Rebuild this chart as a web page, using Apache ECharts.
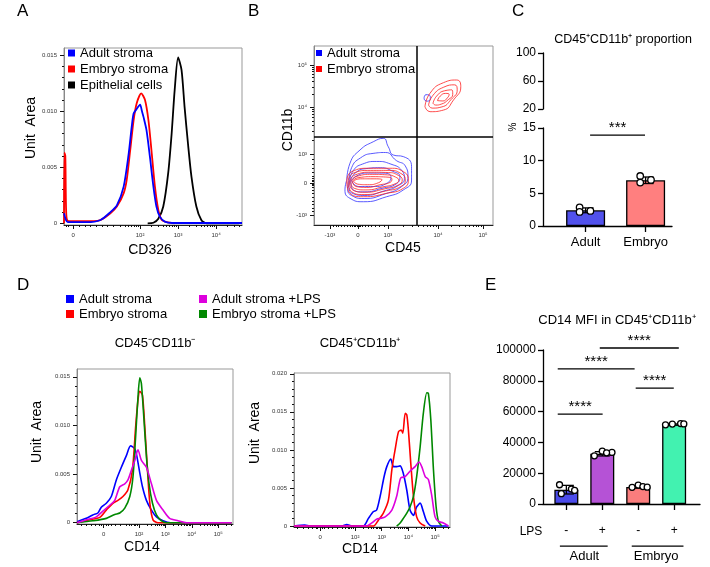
<!DOCTYPE html>
<html><head><meta charset="utf-8">
<script src="https://cdn.jsdelivr.net/npm/echarts@6/dist/echarts.min.js"></script>
<style>html,body{margin:0;padding:0;background:#fff}#c{width:710px;height:567px}</style>
</head><body><div id="c"></div>
<script>
const FONT = '"Liberation Sans", Arial, Helvetica, sans-serif';

// ---------- Panel A: CD326 histograms (x in display decades) ----------
const A_xTickVals = [0.24, 2, 3, 4];
const A_xTickLabels = ['0', '10²', '10³', '10⁴'];
const A_yTickVals = [0, 0.005, 0.01, 0.015];
const A_yTickLabels = ['0', '0.005', '0.010', '0.015'];
const A_adult = [[0,0.0009],[0.05,0.0003],[0.1,0.0001],[0.6,0.0001],[0.96,0.0003],[1.22,0.001],[1.39,0.0016],[1.57,0.0033],[1.70,0.0062],[1.78,0.0086],[1.83,0.0098],[1.91,0.0102],[2.0,0.0106],[2.05,0.0100],[2.09,0.0095],[2.17,0.0083],[2.26,0.0059],[2.35,0.0033],[2.43,0.0015],[2.52,0.0006],[2.65,0.00015],[2.85,0.00003],[4.68,0.00003]];
const A_embryo = [[0,0],[0.01,0.0063],[0.035,0.006],[0.06,0.0008],[0.12,0.0002],[0.78,0.0002],[0.96,0.0003],[1.22,0.0009],[1.39,0.0015],[1.57,0.0027],[1.65,0.0039],[1.74,0.0065],[1.83,0.0092],[1.91,0.0107],[2.03,0.0116],[2.13,0.011],[2.22,0.0092],[2.30,0.0065],[2.39,0.0033],[2.48,0.0012],[2.57,0.0003],[2.70,0.0001],[2.9,0]];
const A_epi = [[2.2,0],[2.35,0.00005],[2.48,0.0004],[2.61,0.0015],[2.74,0.0045],[2.83,0.008],[2.91,0.0119],[3.0,0.0148],[3.09,0.0137],[3.17,0.0104],[3.26,0.0071],[3.35,0.0042],[3.48,0.0015],[3.61,0.0003],[3.74,0],[4.6,0]];

// ---------- Panel B: CD45 vs CD11b contours (display units 0-100) ----------
const B_xTickVals = [8.9, 24.6, 41.3, 69.3, 94.4];
const B_xTickLabels = ['-10³', '0', '10³', '10⁴', '10⁵'];
const B_yTickVals = [5.6, 23.5, 39.7, 65.9, 89.4];
const B_yTickLabels = ['-10³', '0', '10³', '10⁴', '10⁵'];
const B_gateX = 57.5;
const B_gateY = 49.2;
const B_adultLoops = [
  [[18.3,25.1],[20.1,34.5],[25.7,41.9],[33.1,46.5],[38.7,48.4],[41.5,43.7],[44.3,39.1],[49.9,38.2],[54.5,32.6],[54.5,25.1],[49.9,19.6],[40.6,15.8],[27.6,13.0],[20.1,14.9],[17.3,19.6]],
  [[19.5,25],[21,32],[26,37.5],[33,40],[40,40.5],[46,36],[51,33],[52.5,27],[49,21.5],[40,17.5],[28,14.8],[21,16.5],[18.8,20.5]],
  [[20,25],[22,30.5],[27,34],[35,35.5],[43,34],[49,30.5],[50.5,26],[47,22],[39,19],[28,16.5],[22,17.5],[19.5,21]],
  [[20.5,25],[23,29],[29,31.5],[37,32],[44,30],[48,27],[46,23],[38,20.5],[28,18.5],[22,19.5]],
  [[21,25],[24,27.5],[30,29],[38,29],[43,27],[41,23.5],[33,21.5],[25,21.5]],
  [[61.5,71],[62.5,72.8],[64.3,72.6],[65,70.8],[63.5,69.2],[62,69.6]]
];
const B_embryoLoops = [
  [[18.3,24.2],[21.0,29.8],[31.3,31.7],[42.5,31.7],[49.9,29.8],[52.7,25.1],[49.9,20.5],[40.6,17.7],[27.6,15.8],[20.1,17.7]],
  [[19,24.2],[22,29],[31.5,30.5],[42,30.5],[48.5,28.8],[51,25.2],[48.5,21.5],[40,19],[28,17],[21,18.6]],
  [[19.8,24.3],[23,28],[32,29.5],[41.5,29.3],[47,27.8],[49.3,25.2],[47,22.3],[39.5,20.2],[28.5,18.3],[21.8,19.5]],
  [[20.5,24.4],[24,27.2],[32.5,28.3],[41,28],[45.5,26.8],[47.3,25],[45.3,23],[38.5,21.3],[29,19.6],[22.5,20.5]],
  [[21.3,24.5],[25,26.5],[33,27],[40,26.8],[43.5,25.6],[42.5,23.8],[37,22.5],[29.5,21],[23.5,21.5]],
  [[22,24.6],[26,25.8],[33,25.8],[38,25.3],[36,23.6],[30,22.5],[24.5,22.8]],
  [[62.0,66.1],[64.8,73.6],[72.3,79.5],[79.7,81.0],[82.0,77.3],[77.9,69.8],[72.3,64.2],[64.8,63.3]],
  [[64,67],[66.5,72.5],[72.5,77],[78.5,78.3],[80,75.5],[76.5,70],[71.5,66],[66,65.3]],
  [[66.5,68],[68.5,72],[73,75],[77,75.5],[77.5,73],[75,70],[71,67.5],[68,67]],
  [[69,69.5],[70.5,72],[73.5,73.5],[75.5,73],[74.5,71],[72,69.3]]
];

// ---------- Panel C: CD45+CD11b+ proportion ----------
const C_groups = ['Adult', 'Embryo'];
const C_means = [2.4, 7.0];
const C_sd = [0.37, 0.5];
const C_dots = [[[-0.1,2.85],[-0.1,2.15],[0.08,2.3]], [[-0.09,7.65],[-0.09,6.65],[0.09,7.05]]];
const C_upperTicks = [20, 60, 100];
const C_sig = [[0.075, 0.99, 13.9]];

// ---------- Panel D: CD14 histograms ----------
const D_xTickLabels = ['0', '10²', '10³', '10⁴', '10⁵'];
const DL_xTickVals = [0.66, 2, 3, 4, 5];
const DR_xTickVals = [0.69, 2, 3, 4, 5];
const DL_yTickVals = [0, 0.005, 0.01, 0.015];
const DL_yTickLabels = ['0', '0.005', '0.010', '0.015'];
const DR_yTickVals = [0, 0.005, 0.01, 0.015, 0.02];
const DR_yTickLabels = ['0', '0.005', '0.010', '0.015', '0.020'];
const DL_adult = [[-0.35,0.0001],[0,0.00045],[0.25,0.0008],[0.44,0.001],[0.57,0.0016],[0.76,0.002],[0.95,0.0027],[1.14,0.0044],[1.33,0.0057],[1.52,0.0069],[1.68,0.0079],[1.84,0.0076],[1.92,0.0068],[2.03,0.0051],[2.13,0.0037],[2.28,0.0023],[2.47,0.0013],[2.66,0.0006],[2.91,0.0002],[3.2,0],[5.5,0]];
const DL_embryo = [[-0.35,0],[0.13,0.0003],[0.51,0.00055],[0.76,0.0013],[1.01,0.002],[1.2,0.0023],[1.39,0.0027],[1.58,0.0034],[1.75,0.0054],[1.87,0.0098],[1.96,0.0126],[2.03,0.0135],[2.13,0.0131],[2.22,0.0098],[2.32,0.0054],[2.41,0.002],[2.53,0.0003],[2.72,0],[5.5,0]];
const DL_adultLPS = [[-0.35,0],[0,0.0003],[0.38,0.0006],[0.63,0.0012],[0.89,0.0018],[1.08,0.0023],[1.27,0.0037],[1.46,0.004],[1.58,0.0044],[1.71,0.0054],[1.84,0.0064],[1.96,0.0075],[2.09,0.0064],[2.28,0.0057],[2.47,0.004],[2.66,0.0023],[2.91,0.0013],[3.16,0.00045],[3.48,0.0002],[3.8,0],[5.5,0]];
const DL_embryoLPS = [[-0.35,0],[0.25,0.0002],[0.76,0.00045],[1.08,0.00085],[1.27,0.001],[1.46,0.0015],[1.65,0.0027],[1.77,0.0047],[1.87,0.0088],[1.96,0.0129],[2.03,0.0149],[2.09,0.0143],[2.18,0.0109],[2.28,0.0068],[2.38,0.004],[2.51,0.002],[2.66,0.0008],[2.85,0.0002],[3.05,0],[5.5,0]];
const DR_adult = [[-0.29,0],[0.12,0.00013],[0.3,0],[1.5,0],[1.69,0.0002],[1.88,0],[2.31,0],[2.5,0.001],[2.69,0.0019],[2.81,0.0021],[2.94,0.0039],[3.09,0.0065],[3.19,0.0078],[3.34,0.0088],[3.44,0.0078],[3.56,0.0078],[3.69,0.0079],[3.81,0.0069],[3.94,0.0047],[4.06,0.0021],[4.19,0.0014],[4.31,0.0025],[4.44,0.003],[4.56,0.0019],[4.69,0.0006],[4.88,0],[5.5,0]];
const DR_embryo = [[-0.29,0],[2.69,0],[2.88,0.0008],[3.06,0.0017],[3.25,0.0034],[3.38,0.0074],[3.5,0.01],[3.63,0.0124],[3.73,0.0126],[3.79,0.0122],[3.88,0.0148],[3.94,0.0146],[4.0,0.0126],[4.09,0.0082],[4.19,0.0039],[4.31,0.0012],[4.44,0.0004],[4.63,0]];
const DR_adultLPS = [[-0.29,0],[2.44,0],[2.63,0.0004],[2.81,0.0009],[2.94,0.001],[3.13,0.0012],[3.38,0.0021],[3.56,0.0039],[3.71,0.0063],[3.88,0.0065],[4.06,0.0072],[4.25,0.0078],[4.4,0.0084],[4.5,0.0078],[4.63,0.0065],[4.75,0.0061],[4.88,0.0039],[5.0,0.0012],[5.13,0.0006],[5.31,0.0004],[5.5,0]];
const DR_embryoLPS = [[3.56,0],[3.69,0.0004],[3.81,0.001],[3.94,0.0017],[4.06,0.0025],[4.19,0.0039],[4.31,0.0065],[4.44,0.0104],[4.56,0.0148],[4.69,0.0175],[4.75,0.0174],[4.84,0.014],[4.94,0.0074],[5.04,0.0025],[5.13,0.0006],[5.25,0]];

// ---------- Panel E: CD14 MFI ----------
const E_lps = ['-', '+', '-', '+'];
const E_means = [9300, 32600, 11000, 51600];
const E_sd = [2800, 1400, 700, 400];
const E_dots = [
  [[-0.19,12500],[-0.14,6700],[0.14,9700],[0.23,8800]],
  [[-0.22,31300],[0.0,34300],[0.27,33500],[0.12,33200]],
  [[-0.17,10800],[0.0,12300],[0.13,11300],[0.25,10900]],
  [[-0.24,51400],[-0.05,51900],[0.18,52200],[0.27,52000]]
];
const E_groups = ['Adult', 'Embryo'];
const E_groupCenters = [0.5, 2.5];
const E_groupLines = [[-0.18, 1.15, -27300], [1.82, 3.26, -27300]];
const E_sig = [[-0.24, 1.01, 58400], [-0.24, 1.90, 87700], [0.93, 3.13, 101300], [1.93, 2.99, 75300]];

const COLORS = { adult:'#0000ff', embryo:'#ff0000', epi:'#000000', adultLPS:'#dd00dd', embryoLPS:'#008800' };
const C_colors = ['#5151ec', '#ff7f7f'];
const E_colors = ['#4b4bea', '#b552d6', '#fa7d7d', '#42f2b0'];

// ---------- helpers ----------
function lab(vals, labels, v) {
  for (let i = 0; i < vals.length; i++) if (Math.abs(vals[i] - v) < 1e-6) return labels[i];
  return '';
}
function logMinors(from, to, lo, hi) {
  const out = [];
  for (let k = from; k < to; k++) for (let m = 2; m <= 9; m++) { const v = k + Math.log10(m); if (v > lo && v < hi) out.push(v); }
  return out;
}
function stepTicks(a, b, s, skip) {
  const out = [];
  for (let v = a; v <= b + 1e-9; v += s) { const r = Math.round(v * 1e6) / 1e6; if (!skip.some(t => Math.abs(t - r) < 1e-9)) out.push(r); }
  return out;
}
function spanMinors(base, span) { const o = []; for (let m = 2; m <= 9; m++) o.push(base + span * Math.log10(m)); return o; }

const xAxes = [], yAxes = [], series = [];
const grids = [
  { left: 64, top: 48, width: 178, height: 177 },   // A
  { left: 314, top: 46, width: 179, height: 179 },  // B
  { left: 543, top: 53, width: 129, height: 56 },   // C upper
  { left: 543, top: 128, width: 129, height: 98 },  // C lower
  { left: 77, top: 369, width: 156, height: 155 },  // D left
  { left: 294, top: 373, width: 156, height: 154 }, // D right
  { left: 543, top: 350, width: 157, height: 154 }  // E
].map((g, i) => Object.assign({ containLabel: false, show: [0,1,4,5].includes(i), borderColor: '#999', borderWidth: 1 }, g));

function flowAxes(g, xr, xMaj, xLab, xMin, yr, yMaj, yLab, yMin) {
  const xi = xAxes.length, yi = yAxes.length;
  const tiny = { fontSize: 6, color: '#333', fontFamily: FONT };
  xAxes.push({ type: 'value', gridIndex: g, position: 'bottom', min: xr[0], max: xr[1],
    axisLine: { show: true, onZero: false, lineStyle: { color: '#222', width: 1 } },
    axisTick: { show: true, customValues: xMaj, length: 4, lineStyle: { color: '#111', width: 1 } },
    axisLabel: Object.assign({ show: true, customValues: xMaj, formatter: v => lab(xMaj, xLab, v), margin: 7 }, tiny),
    splitLine: { show: false } });
  xAxes.push({ type: 'value', gridIndex: g, position: 'bottom', min: xr[0], max: xr[1],
    axisLine: { show: false, onZero: false },
    axisTick: { show: true, customValues: xMin, length: 2, lineStyle: { color: '#111', width: 1 } },
    axisLabel: { show: false }, splitLine: { show: false } });
  yAxes.push({ type: 'value', gridIndex: g, position: 'left', min: yr[0], max: yr[1],
    axisLine: { show: true, onZero: false, lineStyle: { color: '#888', width: 1 } },
    axisTick: { show: true, customValues: yMaj, length: 4, lineStyle: { color: '#111', width: 1 } },
    axisLabel: Object.assign({ show: true, customValues: yMaj, formatter: v => lab(yMaj, yLab, v), margin: 7 }, tiny),
    splitLine: { show: false } });
  yAxes.push({ type: 'value', gridIndex: g, position: 'left', min: yr[0], max: yr[1],
    axisLine: { show: false, onZero: false },
    axisTick: { show: true, customValues: yMin, length: 2, lineStyle: { color: '#111', width: 1 } },
    axisLabel: { show: false }, splitLine: { show: false } });
  return [xi, yi];
}
function hist(name, ax, data, color, width) {
  series.push({ type: 'line', name, xAxisIndex: ax[0], yAxisIndex: ax[1], data, symbol: 'none', showSymbol: false,
    smooth: 0.25, lineStyle: { color, width: width || 1.6 }, itemStyle: { color }, animation: false, silent: true });
}

// ---------- A ----------
const axA = flowAxes(0, [0, 4.68], A_xTickVals, A_xTickLabels,
  [0.05,0.12,0.4,0.55,0.7,0.85,1.0,1.15,1.3,1.48,1.6,1.7,1.78,1.85,1.9,1.95].concat(logMinors(2, 5, 2, 4.68)),
  [-0.00015, 0.01565], A_yTickVals, A_yTickLabels, stepTicks(0.001, 0.015, 0.001, A_yTickVals));
hist('Epithelial cells', axA, A_epi, COLORS.epi, 1.8);
hist('Embryo stroma', axA, A_embryo, COLORS.embryo, 1.8);
hist('Adult stroma', axA, A_adult, COLORS.adult, 1.8);

// ---------- B ----------
const bxMinor = [10.5,12.2,13.8,15.4,17,18.6,20.2,21.5,22.5,23.3,24,25.2,26,27,28.6,30.2,32,34,36.5,39.5]
  .concat(spanMinors(41.3, 28), spanMinors(69.3, 25.1));
const byMinor = [7.5,9.5,11.5,13.5,15.5,17.5,19.5,21,22,22.8,24.2,25,26,27.5,29.5,31.5,34,37]
  .concat(spanMinors(39.7, 26.2), spanMinors(65.9, 23.5));
const axB = flowAxes(1, [0, 100], B_xTickVals, B_xTickLabels, bxMinor, [0, 100], B_yTickVals, B_yTickLabels, byMinor);
B_adultLoops.forEach((p, i) => {
  const s = { type: 'line', name: 'Adult stroma', xAxisIndex: axB[0], yAxisIndex: axB[1], data: p.concat([p[0]]),
    symbol: 'none', smooth: 0.55, lineStyle: { color: '#3030ff', width: 0.8 }, itemStyle: { color: COLORS.adult }, animation: false, silent: true };
  if (i === 0) s.markLine = { silent: true, symbol: 'none', animation: false, label: { show: false },
    lineStyle: { color: '#000', width: 1.5, type: 'solid' }, data: [{ xAxis: B_gateX }, { yAxis: B_gateY }] };
  series.push(s);
});
B_embryoLoops.forEach(p => series.push({ type: 'line', name: 'Embryo stroma', xAxisIndex: axB[0], yAxisIndex: axB[1], data: p.concat([p[0]]),
  symbol: 'none', smooth: 0.55, lineStyle: { color: '#ff2020', width: 0.8 }, itemStyle: { color: COLORS.embryo }, animation: false, silent: true }));

// ---------- C ----------
const blk = { color: '#000', width: 1.3 };
const cxU = xAxes.length; xAxes.push({ type: 'value', gridIndex: 2, min: 0, max: 1, show: false });
const cyU = yAxes.length; yAxes.push({ type: 'value', gridIndex: 2, position: 'left', min: 20, max: 100,
  axisLine: { show: true, onZero: false, lineStyle: blk }, axisTick: { customValues: C_upperTicks, length: 5, lineStyle: blk },
  axisLabel: { customValues: C_upperTicks, fontSize: 12, color: '#000', margin: 7, fontFamily: FONT }, splitLine: { show: false } });
const cx = xAxes.length; xAxes.push({ type: 'value', gridIndex: 3, position: 'bottom', min: -0.71, max: 1.44,
  axisLine: { show: true, onZero: false, lineStyle: blk }, axisTick: { customValues: [0, 1], length: 6, lineStyle: blk },
  axisLabel: { customValues: [0, 1], formatter: v => C_groups[Math.round(v)], fontSize: 13, color: '#000', margin: 10, fontFamily: FONT },
  splitLine: { show: false } });
const cy = yAxes.length; yAxes.push({ type: 'value', gridIndex: 3, position: 'left', min: 0, max: 15, interval: 5,
  axisLine: { show: true, onZero: false, lineStyle: blk }, axisTick: { length: 5, lineStyle: blk },
  axisLabel: { fontSize: 12, color: '#000', margin: 7, fontFamily: FONT, formatter: v => String(v) }, splitLine: { show: false } });

function errRender(cap) {
  return function (params, api) {
    const x = api.value(0), m = api.value(1), s = api.value(2);
    const t = api.coord([x, m + s]), b = api.coord([x, m - s]);
    const st = { stroke: '#000', lineWidth: 1.3 };
    return { type: 'group', children: [
      { type: 'line', shape: { x1: t[0], y1: t[1], x2: b[0], y2: b[1] }, style: st },
      { type: 'line', shape: { x1: t[0] - cap / 2, y1: t[1], x2: t[0] + cap / 2, y2: t[1] }, style: st },
      { type: 'line', shape: { x1: b[0] - cap / 2, y1: b[1], x2: b[0] + cap / 2, y2: b[1] }, style: st }
    ] };
  };
}
function sigRender(stars) {
  return function (params, api) {
    const a = api.coord([api.value(0), api.value(2)]), b = api.coord([api.value(1), api.value(2)]);
    return { type: 'group', children: [
      { type: 'line', shape: { x1: a[0], y1: a[1], x2: b[0], y2: b[1] }, style: { stroke: '#000', lineWidth: 1.3 } },
      { type: 'text', x: (a[0] + b[0]) / 2, y: a[1] - 7,
        style: { text: stars, fill: '#000', fontSize: 15, fontFamily: FONT, align: 'center', verticalAlign: 'middle',
          textAlign: 'center', textVerticalAlign: 'middle' } }
    ] };
  };
}
series.push({ type: 'bar', xAxisIndex: cx, yAxisIndex: cy, barWidth: 39, animation: false, z: 2,
  data: C_means.map((m, i) => ({ value: [i, m], itemStyle: { color: C_colors[i] } })),
  itemStyle: { borderColor: '#000', borderWidth: 1.3 } });
series.push({ type: 'custom', xAxisIndex: cx, yAxisIndex: cy, z: 3, animation: false, silent: true,
  data: C_means.map((m, i) => [i, m, C_sd[i]]), renderItem: errRender(16) });
series.push({ type: 'scatter', xAxisIndex: cx, yAxisIndex: cy, z: 4, animation: false, silent: true, symbolSize: 6.5,
  itemStyle: { color: '#fff', borderColor: '#000', borderWidth: 1.3, opacity: 1 },
  data: C_dots.flatMap((g, i) => g.map(d => [i + d[0], d[1]])) });
series.push({ type: 'custom', xAxisIndex: cx, yAxisIndex: cy, z: 5, animation: false, silent: true, clip: false,
  data: C_sig, renderItem: sigRender('***') });

// ---------- D ----------
const dMinL = [-0.2,0.0,0.2,0.35,0.5,0.58,0.74,0.82,0.95,1.1,1.3,1.5,1.62,1.72,1.8,1.87,1.93].concat(logMinors(2, 6, 2, 5.55));
const dMinR = [-0.15,0.05,0.25,0.4,0.55,0.6,0.78,0.86,1.0,1.15,1.35,1.52,1.63,1.73,1.8,1.87,1.93].concat(logMinors(2, 6, 2, 5.55));
const axDL = flowAxes(4, [-0.35, 5.56], DL_xTickVals, D_xTickLabels, dMinL,
  [-0.00013, 0.0158], DL_yTickVals, DL_yTickLabels, stepTicks(0.001, 0.015, 0.001, DL_yTickVals));
const axDR = flowAxes(5, [-0.29, 5.56], DR_xTickVals, D_xTickLabels, dMinR,
  [-0.00013, 0.0201], DR_yTickVals, DR_yTickLabels, stepTicks(0.001, 0.02, 0.001, DR_yTickVals));
hist('Adult stroma', axDL, DL_adult, COLORS.adult);
hist('Embryo stroma', axDL, DL_embryo, COLORS.embryo);
hist('Embryo stroma +LPS', axDL, DL_embryoLPS, COLORS.embryoLPS);
hist('Adult stroma +LPS', axDL, DL_adultLPS, COLORS.adultLPS);
hist('Adult stroma', axDR, DR_adult, COLORS.adult);
hist('Embryo stroma', axDR, DR_embryo, COLORS.embryo);
hist('Embryo stroma +LPS', axDR, DR_embryoLPS, COLORS.embryoLPS);
hist('Adult stroma +LPS', axDR, DR_adultLPS, COLORS.adultLPS);

// ---------- E ----------
const ex = xAxes.length; xAxes.push({ type: 'value', gridIndex: 6, position: 'bottom', min: -0.65, max: 3.72,
  axisLine: { show: true, onZero: false, lineStyle: blk }, axisTick: { customValues: [0, 1, 2, 3], length: 6, lineStyle: blk },
  axisLabel: { customValues: [0, 1, 2, 3], formatter: v => E_lps[Math.round(v)], fontSize: 12, color: '#000', margin: 21, fontFamily: FONT },
  splitLine: { show: false } });
xAxes.push({ type: 'value', gridIndex: 6, position: 'bottom', min: -0.65, max: 3.72,
  axisLine: { show: false, onZero: false }, axisTick: { show: false },
  axisLabel: { customValues: E_groupCenters, formatter: v => lab(E_groupCenters, E_groups, v), fontSize: 13, color: '#000', margin: 46, fontFamily: FONT },
  splitLine: { show: false } });
const ey = yAxes.length; yAxes.push({ type: 'value', gridIndex: 6, position: 'left', min: 0, max: 100000, interval: 20000,
  axisLine: { show: true, onZero: false, lineStyle: blk }, axisTick: { length: 5, lineStyle: blk },
  axisLabel: { fontSize: 12, color: '#000', margin: 7, fontFamily: FONT, formatter: v => String(v) }, splitLine: { show: false } });
series.push({ type: 'bar', xAxisIndex: ex, yAxisIndex: ey, barWidth: 24, animation: false, z: 2,
  data: E_means.map((m, i) => ({ value: [i, m], itemStyle: { color: E_colors[i] } })),
  itemStyle: { borderColor: '#000', borderWidth: 1.3 } });
series.push({ type: 'custom', xAxisIndex: ex, yAxisIndex: ey, z: 3, animation: false, silent: true,
  data: E_means.map((m, i) => [i, m, E_sd[i]]), renderItem: errRender(15) });
series.push({ type: 'scatter', xAxisIndex: ex, yAxisIndex: ey, z: 4, animation: false, silent: true, symbolSize: 6,
  itemStyle: { color: '#fff', borderColor: '#000', borderWidth: 1.3, opacity: 1 },
  data: E_dots.flatMap((g, i) => g.map(d => [i + d[0], d[1]])) });
series.push({ type: 'custom', xAxisIndex: ex, yAxisIndex: ey, z: 5, animation: false, silent: true, clip: false,
  data: E_sig, renderItem: sigRender('****') });
series.push({ type: 'custom', xAxisIndex: ex, yAxisIndex: ey, z: 5, animation: false, silent: true, clip: false,
  data: E_groupLines, renderItem: sigRender('') });

// ---------- legends ----------
const legBase = { orient: 'vertical', icon: 'rect', padding: 0, selectedMode: false,
  textStyle: { fontSize: 13, color: '#000', fontFamily: FONT, lineHeight: 13 } };
const legends = [
  Object.assign({}, legBase, { left: 68, top: 46.5, itemWidth: 7, itemHeight: 7, itemGap: 3, data: ['Adult stroma', 'Embryo stroma', 'Epithelial cells'] }),
  Object.assign({}, legBase, { left: 316, top: 46.5, itemWidth: 6, itemHeight: 6, itemGap: 3, data: ['Adult stroma', 'Embryo stroma'] }),
  Object.assign({}, legBase, { left: 66, top: 292.5, itemWidth: 8, itemHeight: 8, itemGap: 2, data: ['Adult stroma', 'Embryo stroma'] }),
  Object.assign({}, legBase, { left: 199, top: 292.5, itemWidth: 8, itemHeight: 8, itemGap: 2, data: ['Adult stroma +LPS', 'Embryo stroma +LPS'] })
];

// ---------- texts ----------
function T(text, x, y, size, opts) {
  opts = opts || {};
  return { type: 'text', x, y, rotation: opts.rot || 0, z: 100, silent: true,
    style: { text, fill: '#000', fontSize: size, fontFamily: FONT,
      align: opts.align || 'center', verticalAlign: opts.va || 'middle',
      textAlign: opts.align || 'center', textVerticalAlign: opts.va || 'middle' } };
}
const R = Math.PI / 2;
const texts = [
  T('A', 17, 11, 17, { align: 'left' }), T('B', 248, 11, 17, { align: 'left' }), T('C', 512, 11, 17, { align: 'left' }),
  T('D', 17, 285, 17, { align: 'left' }), T('E', 485, 285, 17, { align: 'left' }),
  T('Unit  Area', 31, 128, 14, { rot: R }), T('CD326', 150, 250, 14),
  T('CD11b', 288, 130, 14, { rot: R }), T('CD45', 403, 248, 14),
  T('CD45⁺CD11b⁺ proportion', 623, 40, 12.5), T('%', 513, 127, 10, { rot: R }),
  T('CD45⁻CD11b⁻', 155, 343, 13), T('CD45⁺CD11b⁺', 360, 343, 13),
  T('Unit  Area', 37, 432, 14, { rot: R }), T('CD14', 142, 547, 14),
  T('Unit  Area', 255, 433, 14, { rot: R }), T('CD14', 360, 549, 14),
  T('CD14 MFI in CD45⁺CD11b⁺', 617, 320, 13), T('LPS', 531, 532, 12)
];

const chart = echarts.init(document.getElementById('c'), null, { renderer: 'canvas' });
chart.setOption({
  backgroundColor: '#fff', animation: false, textStyle: { fontFamily: FONT },
  grid: grids, xAxis: xAxes, yAxis: yAxes, series, legend: legends, graphic: { elements: texts }
});
</script></body></html>
